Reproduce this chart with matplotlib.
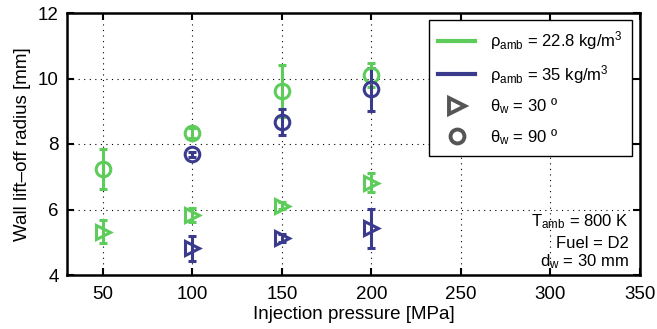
import matplotlib
matplotlib.use("Agg")
import matplotlib.pyplot as plt
from matplotlib.lines import Line2D

plt.rcParams['font.family'] = ['Liberation Sans', 'DejaVu Sans']
plt.rcParams['mathtext.fontset'] = 'custom'
plt.rcParams['mathtext.rm'] = 'Liberation Sans'
plt.rcParams['mathtext.it'] = 'Liberation Sans:italic'

# Injection pressures [MPa]
pressure_low = [50, 100, 150, 200]
pressure_high = [100, 150, 200]

# rho_amb = 22.8 kg/m3
low_30 = [5.32, 5.83, 6.12, 6.82]
low_30_err = [0.35, 0.22, 0.1, 0.28]
low_90 = [7.24, 8.33, 9.62, 10.1]
low_90_err = [0.6, 0.15, 0.8, 0.37]

# rho_amb = 35 kg/m3
high_30 = [4.82, 5.12, 5.43]
high_30_err = [0.38, 0.12, 0.6]
high_90 = [7.69, 8.68, 9.67]
high_90_err = [0.08, 0.4, 0.65]

green = '#5dcc5a'
blue = '#3b3b8e'

fig = plt.figure(figsize=(6.57, 3.29), dpi=100)
ax = fig.add_axes([67/657, 1-275/329, (640-67)/657, (275-13)/329])

common = dict(linestyle='none', markerfacecolor='none', markeredgewidth=2.2,
              elinewidth=2.2, capsize=3, capthick=2.2, markersize=10.5)
ax.errorbar(pressure_low, low_30, yerr=low_30_err, marker='>', color=green, **common)
ax.errorbar(pressure_low, low_90, yerr=low_90_err, marker='o', color=green, **common)
ax.errorbar(pressure_high, high_30, yerr=high_30_err, marker='>', color=blue, **common)
ax.errorbar(pressure_high, high_90, yerr=high_90_err, marker='o', color=blue, **common)

ax.set_xlim(30, 350)
ax.set_ylim(4, 12)
ax.set_xticks([50, 100, 150, 200, 250, 300, 350])
ax.set_yticks([4, 6, 8, 10, 12])
ax.grid(True, linestyle=(0, (1, 4)), color='black', linewidth=0.8)
ax.tick_params(direction='in', top=True, right=True, labelsize=13.5, width=1.5, length=5)
ax.tick_params(axis='x', pad=8)
ax.tick_params(axis='y', pad=6)
for s in ax.spines.values():
    s.set_linewidth(1.8)

ax.set_xlabel('Injection pressure [MPa]', fontsize=13.5, labelpad=2)
ax.set_ylabel('Wall lift\u2013off radius [mm]', fontsize=13.5, labelpad=5)

handles = [
    Line2D([], [], color=green, linewidth=3),
    Line2D([], [], color=blue, linewidth=3),
    Line2D([], [], color='#555555', marker='>', linestyle='none', markersize=11,
           markerfacecolor='none', markeredgewidth=2.8),
    Line2D([], [], color='#555555', marker='o', linestyle='none', markersize=10,
           markerfacecolor='none', markeredgewidth=2.8),
]
labels = [
    'ρ$_{\\rm amb}$ = 22.8 kg/m$^3$',
    'ρ$_{\\rm amb}$ = 35 kg/m$^3$',
    'θ$_{\\rm w}$ = 30 º',
    'θ$_{\\rm w}$ = 90 º',
]
leg = ax.legend(handles, labels, loc='upper right', fontsize=12, fancybox=False,
                framealpha=1, edgecolor='black', handlelength=2.2,
                handletextpad=0.9, borderpad=0.55, labelspacing=0.65,
                borderaxespad=0, bbox_to_anchor=(0.986, 0.973))
leg.get_frame().set_linewidth(1.0)

ax.text(0.98, 0.205, 'T$_{\\rm amb}$ = 800 K', transform=ax.transAxes,
        ha='right', va='center', fontsize=12)
ax.text(0.98, 0.12, 'Fuel = D2', transform=ax.transAxes,
        ha='right', va='center', fontsize=12)
ax.text(0.98, 0.05, 'd$_{\\rm w}$ = 30 mm', transform=ax.transAxes,
        ha='right', va='center', fontsize=12)

fig.savefig('out.png', dpi=100)
